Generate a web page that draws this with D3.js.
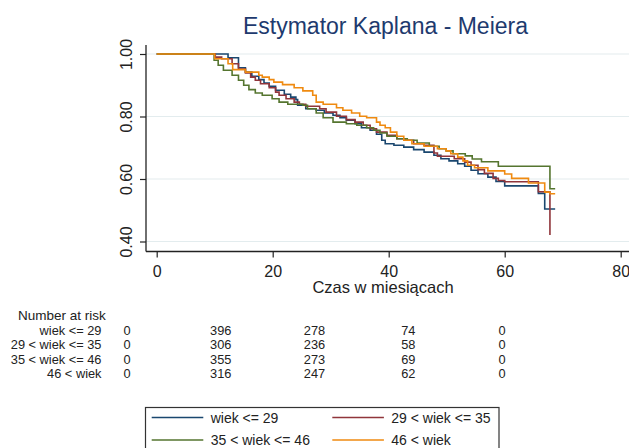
<!DOCTYPE html>
<html>
<head>
<meta charset="utf-8">
<script src="https://cdn.jsdelivr.net/npm/d3@7"></script>
<style>
  body { margin: 0; background: #fff; }
  text { font-family: Arial, "Liberation Sans", sans-serif; }
</style>
</head>
<body>
<svg id="chart" width="629" height="448"></svg>
<script>
// Kaplan-Meier survival by age group: [time in months, survival] from that time on
const groups = ["wiek <= 29", "29 < wiek <= 35", "35 < wiek <= 46", "46 < wiek"];
const colors = ["#1a476f", "#90353b", "#55752f", "#ef8a10"];

const kmLe29 = [[0,1],[12.3,.988],[14.1,.956],[15.3,.942],[16.4,.929],[17.6,.918],[18.5,.907],[19.4,.897],[20.5,.884],[22.0,.871],[23.1,.862],[24.0,.854],[24.3,.836],[25.7,.825],[27.5,.820],[28.9,.811],[30.4,.804],[31.6,.796],[32.7,.788],[34.2,.777],[35.3,.764],[36.8,.756],[37.9,.743],[38.8,.724],[39.4,.713],[40.9,.708],[42.6,.702],[44.3,.694],[46.1,.686],[47.8,.676],[49.0,.665],[50.4,.658],[51.9,.649],[53.1,.641],[54.2,.628],[55.4,.617],[57.1,.606],[58.5,.592],[60.0,.578],[65.8,.554],[66.9,.504],[68.7,.504]];
const kmLe35 = [[0,1],[10.1,.990],[11.2,.985],[13.0,.969],[14.1,.952],[15.3,.939],[16.2,.926],[17.0,.916],[17.9,.905],[19.4,.892],[20.5,.878],[21.1,.868],[22.3,.857],[23.7,.846],[24.6,.839],[25.7,.833],[28.1,.825],[29.2,.814],[31.0,.801],[32.7,.790],[34.2,.782],[35.6,.772],[36.8,.761],[37.9,.750],[39.7,.740],[41.4,.729],[42.9,.724],[44.3,.713],[46.1,.708],[47.8,.683],[48.4,.673],[51.3,.665],[53.1,.654],[54.2,.644],[55.4,.630],[56.5,.618],[58.0,.602],[58.9,.595],[60.0,.591],[65.8,.559],[67.8,.421]];
const kmLe46 = [[0,1],[9.9,.980],[10.6,.964],[11.5,.948],[13.0,.932],[14.1,.916],[15.0,.900],[15.9,.886],[17.0,.875],[18.2,.868],[19.9,.857],[21.1,.846],[22.6,.839],[25.2,.836],[26.0,.825],[27.5,.811],[28.7,.796],[30.4,.782],[32.7,.777],[34.5,.772],[36.2,.764],[37.4,.756],[38.5,.747],[39.7,.737],[41.4,.729],[43.2,.724],[44.9,.715],[47.0,.705],[48.7,.697],[49.9,.690],[51.1,.681],[53.2,.674],[54.4,.664],[56.0,.655],[58.9,.641],[67.8,.569],[68.7,.569]];
const kmGt46 = [[0,1],[10.0,.985],[12.3,.969],[13.1,.950],[15.3,.942],[17.6,.932],[18.2,.926],[19.4,.918],[20.2,.910],[21.7,.902],[23.7,.892],[25.2,.882],[26.9,.868],[27.5,.846],[28.7,.839],[31.0,.828],[32.1,.820],[33.6,.811],[35.0,.801],[36.2,.796],[37.9,.782],[38.5,.772],[39.4,.764],[40.3,.750],[41.4,.737],[42.6,.724],[44.0,.713],[46.1,.705],[48.4,.697],[49.9,.690],[50.7,.681],[51.9,.670],[52.8,.658],[53.6,.644],[54.8,.636],[57.1,.626],[60.0,.616],[61.2,.602],[64.1,.587],[66.9,.558],[67.8,.553],[68.7,.553]];
const curves = [kmLe29, kmLe35, kmLe46, kmGt46];

const xTicks = [0, 20, 40, 60, 80];
const yTicks = [0.40, 0.60, 0.80, 1.00];

// number at risk at months 0, 20, 40, 60, 80
const riskTimes = [0, 20, 40, 60, 80];
const riskLe29 = [0, 396, 278, 74, 0];
const riskLe35 = [0, 306, 236, 58, 0];
const riskLe46 = [0, 355, 273, 69, 0];
const riskGt46 = [0, 316, 247, 62, 0];
const riskRows = [riskLe29, riskLe35, riskLe46, riskGt46];

const svg = d3.select("#chart");

const x = d3.scaleLinear().domain([0, 80]).range([156.7, 620.7]);
const y = d3.scaleLinear().domain([0.4, 1.0]).range([241.5, 54]);
const axisX = 146, axisY = 251.5;

// title
svg.append("text").attr("x", 385.5).attr("y", 33.5).attr("text-anchor", "middle")
  .attr("font-size", 23).attr("fill", "#1e3a6e").text("Estymator Kaplana - Meiera");

// gridlines
svg.append("g").selectAll("line").data(yTicks).join("line")
  .attr("x1", axisX).attr("x2", 629)
  .attr("y1", d => y(d)).attr("y2", d => y(d))
  .attr("stroke", "#e3ecee").attr("stroke-width", 1.2);

// y axis
const gy = svg.append("g").attr("transform", `translate(${axisX},0)`)
  .call(d3.axisLeft(y).tickValues(yTicks).tickFormat(d3.format(".2f")).tickSize(6).tickSizeOuter(0));
gy.select(".domain").remove();
gy.selectAll(".tick line").attr("stroke", "#222").attr("stroke-width", 1.2);
gy.selectAll(".tick text").attr("font-size", 16).attr("fill", "#222")
  .attr("font-family", "Arial, 'Liberation Sans', sans-serif")
  .attr("text-anchor", "middle").attr("dy", null)
  .attr("transform", "rotate(-90)")
  .attr("x", 0).attr("y", -14);
svg.append("line").attr("x1", axisX).attr("x2", axisX).attr("y1", 45).attr("y2", axisY)
  .attr("stroke", "#222").attr("stroke-width", 1.3);

// x axis
const gx = svg.append("g").attr("transform", `translate(0,${axisY})`)
  .call(d3.axisBottom(x).tickValues(xTicks).tickSize(6).tickSizeOuter(0));
gx.select(".domain").remove();
gx.selectAll(".tick line").attr("stroke", "#222").attr("stroke-width", 1.2);
gx.selectAll(".tick text").attr("font-size", 16).attr("fill", "#222")
  .attr("font-family", "Arial, 'Liberation Sans', sans-serif")
  .attr("dy", null).attr("y", 25);
svg.append("line").attr("x1", axisX).attr("x2", 629).attr("y1", axisY).attr("y2", axisY)
  .attr("stroke", "#222").attr("stroke-width", 1.3);

svg.append("text").attr("x", 383).attr("y", 293).attr("text-anchor", "middle")
  .attr("font-size", 16.5).attr("fill", "#222").text("Czas w miesiącach");

// survival step curves
const line = d3.line().x(d => x(d[0])).y(d => y(d[1])).curve(d3.curveStepAfter);
svg.append("g").selectAll("path").data(curves).join("path")
  .attr("d", line).attr("fill", "none")
  .attr("stroke", (d, i) => colors[i]).attr("stroke-width", 1.6);

// number-at-risk table
const tableFont = 12.8;
const rx = d3.scaleLinear().domain([0, 80]).range([127, 502]);
const rowY = d3.scaleLinear().domain([0, 3]).range([334.7, 377.9]);
svg.append("text").attr("x", 18).attr("y", 319.5).attr("font-size", 13.5).attr("fill", "#222")
  .text("Number at risk");
const rows = svg.append("g").selectAll("g").data(riskRows).join("g");
rows.append("text").attr("x", 101.5).attr("y", (d, i) => rowY(i))
  .attr("text-anchor", "end").attr("font-size", tableFont).attr("fill", "#222")
  .text((d, i) => groups[i]);
rows.each(function (vals, i) {
  d3.select(this).selectAll("text.n").data(vals).join("text").attr("class", "n")
    .attr("x", (v, j) => rx(riskTimes[j])).attr("y", rowY(i))
    .attr("text-anchor", "middle").attr("font-size", tableFont).attr("fill", "#222")
    .text(v => v);
});

// legend
const lg = svg.append("g");
lg.append("rect").attr("x", 145.5).attr("y", 407.5).attr("width", 353.5).attr("height", 60)
  .attr("fill", "#fff").attr("stroke", "#333").attr("stroke-width", 1.2);
const legPos = [[151.7, 417.5], [332.3, 417.5], [151.7, 440], [332.3, 440]];
groups.forEach((g, i) => {
  const [lx, ly] = legPos[i];
  lg.append("line").attr("x1", lx).attr("x2", lx + 51.6).attr("y1", ly).attr("y2", ly)
    .attr("stroke", colors[i]).attr("stroke-width", 1.6);
  lg.append("text").attr("x", lx + 59).attr("y", ly + 5).attr("font-size", 14)
    .attr("fill", "#222").text(g);
});
</script>
</body>
</html>
